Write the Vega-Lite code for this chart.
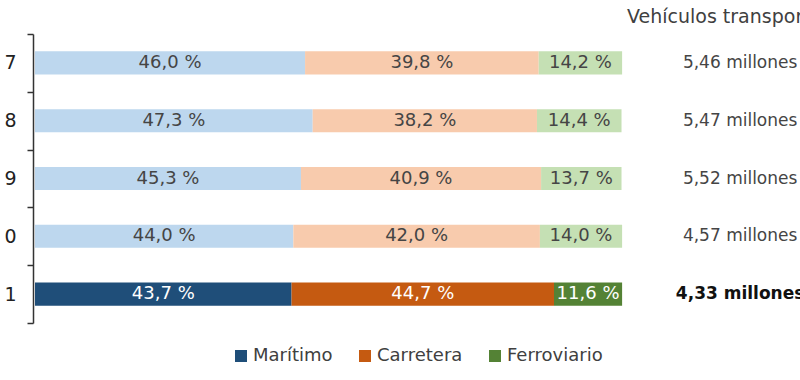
{
  "$schema": "https://vega.github.io/schema/vega-lite/v6.json",
  "width": 765,
  "height": 289,
  "autosize": {"type": "none"},
  "padding": {"left": 35, "top": 34, "right": 0, "bottom": 57},
  "background": "white",
  "title": {"text": "Vehículos transportados", "anchor": "start", "frame": "group", "dx": 592, "offset": -2, "fontSize": 19, "font": "DejaVu Sans", "fontWeight": "normal", "color": "#404040"},
  "datasets": {
    "reparto": [
      {"año": "2017", "modo": "Marítimo", "tono": "Marítimo claro", "orden": 1, "pct": 46.0, "etiqueta": "46,0 %"},
      {"año": "2017", "modo": "Carretera", "tono": "Carretera claro", "orden": 2, "pct": 39.8, "etiqueta": "39,8 %"},
      {"año": "2017", "modo": "Ferroviario", "tono": "Ferroviario claro", "orden": 3, "pct": 14.2, "etiqueta": "14,2 %"},
      {"año": "2018", "modo": "Marítimo", "tono": "Marítimo claro", "orden": 1, "pct": 47.3, "etiqueta": "47,3 %"},
      {"año": "2018", "modo": "Carretera", "tono": "Carretera claro", "orden": 2, "pct": 38.2, "etiqueta": "38,2 %"},
      {"año": "2018", "modo": "Ferroviario", "tono": "Ferroviario claro", "orden": 3, "pct": 14.4, "etiqueta": "14,4 %"},
      {"año": "2019", "modo": "Marítimo", "tono": "Marítimo claro", "orden": 1, "pct": 45.3, "etiqueta": "45,3 %"},
      {"año": "2019", "modo": "Carretera", "tono": "Carretera claro", "orden": 2, "pct": 40.9, "etiqueta": "40,9 %"},
      {"año": "2019", "modo": "Ferroviario", "tono": "Ferroviario claro", "orden": 3, "pct": 13.7, "etiqueta": "13,7 %"},
      {"año": "2020", "modo": "Marítimo", "tono": "Marítimo claro", "orden": 1, "pct": 44.0, "etiqueta": "44,0 %"},
      {"año": "2020", "modo": "Carretera", "tono": "Carretera claro", "orden": 2, "pct": 42.0, "etiqueta": "42,0 %"},
      {"año": "2020", "modo": "Ferroviario", "tono": "Ferroviario claro", "orden": 3, "pct": 14.0, "etiqueta": "14,0 %"},
      {"año": "2021", "modo": "Marítimo", "tono": "Marítimo", "orden": 1, "pct": 43.7, "etiqueta": "43,7 %"},
      {"año": "2021", "modo": "Carretera", "tono": "Carretera", "orden": 2, "pct": 44.7, "etiqueta": "44,7 %"},
      {"año": "2021", "modo": "Ferroviario", "tono": "Ferroviario", "orden": 3, "pct": 11.6, "etiqueta": "11,6 %"}
    ],
    "totales": [
      {"año": "2017", "total": "5,46 millones"},
      {"año": "2018", "total": "5,47 millones"},
      {"año": "2019", "total": "5,52 millones"},
      {"año": "2020", "total": "4,57 millones"},
      {"año": "2021", "total": "4,33 millones"}
    ]
  },
  "encoding": {
    "y": {
      "field": "año",
      "type": "nominal",
      "sort": ["2017", "2018", "2019", "2020", "2021"],
      "scale": {"paddingInner": 0, "paddingOuter": 0},
      "axis": {
        "title": null,
        "labelExpr": "slice(datum.label, 3)",
        "ticks": true,
        "bandPosition": 1,
        "tickExtra": true,
        "tickOffset": 0,
        "labelOffset": 0,
        "domainColor": "#333333",
        "domainWidth": 1.5,
        "tickColor": "#333333",
        "tickWidth": 1.5,
        "tickSize": 6,
        "offset": 2,
        "labelFont": "DejaVu Sans",
        "labelFontSize": 19,
        "labelColor": "#222222",
        "labelPadding": 11
      }
    }
  },
  "layer": [
    {
      "data": {"name": "reparto"},
      "mark": {"type": "bar", "height": {"band": 0.4}},
      "encoding": {
        "x": {"field": "pct", "type": "quantitative", "stack": "zero", "scale": {"domain": [0, 130.3], "nice": false}, "axis": null},
        "order": {"field": "orden", "type": "quantitative"},
        "color": {
          "field": "tono",
          "type": "nominal",
          "scale": {
            "domain": ["Marítimo", "Carretera", "Ferroviario", "Marítimo claro", "Carretera claro", "Ferroviario claro"],
            "range": ["#1f4e79", "#c55a11", "#548235", "#bdd7ee", "#f8cbad", "#c5e0b4"]
          },
          "legend": {
            "values": ["Marítimo", "Carretera", "Ferroviario"],
            "title": null,
            "orient": "none",
            "direction": "horizontal",
            "legendX": 197,
            "legendY": 313,
            "symbolType": "square",
            "symbolSize": 144,
            "symbolStrokeWidth": 0,
            "labelFont": "DejaVu Sans",
            "labelFontSize": 18,
            "labelColor": "#404040",
            "labelOffset": 3,
            "columnPadding": 23
          }
        }
      }
    },
    {
      "data": {"name": "reparto"},
      "mark": {"type": "text", "font": "DejaVu Sans", "fontSize": 18, "baseline": "middle", "align": "center"},
      "encoding": {
        "x": {"field": "pct", "type": "quantitative", "stack": "zero", "bandPosition": 0.5},
        "order": {"field": "orden", "type": "quantitative"},
        "text": {"field": "etiqueta"},
        "color": {"condition": {"test": "datum['año'] === '2021'", "value": "#ffffff"}, "value": "#454545"}
      }
    },
    {
      "data": {"name": "totales"},
      "transform": [{"filter": "datum['año'] !== '2021'"}],
      "mark": {"type": "text", "font": "DejaVu Sans", "fontSize": 17, "baseline": "middle", "align": "center", "color": "#454545"},
      "encoding": {
        "x": {"datum": 120.1, "type": "quantitative"},
        "text": {"field": "total"}
      }
    },
    {
      "data": {"name": "totales"},
      "transform": [{"filter": "datum['año'] === '2021'"}],
      "mark": {"type": "text", "font": "DejaVu Sans", "fontSize": 17, "fontWeight": "bold", "baseline": "middle", "align": "center", "color": "#111111"},
      "encoding": {
        "x": {"datum": 120.1, "type": "quantitative"},
        "text": {"field": "total"}
      }
    }
  ],
  "config": {"view": {"stroke": null}}
}
